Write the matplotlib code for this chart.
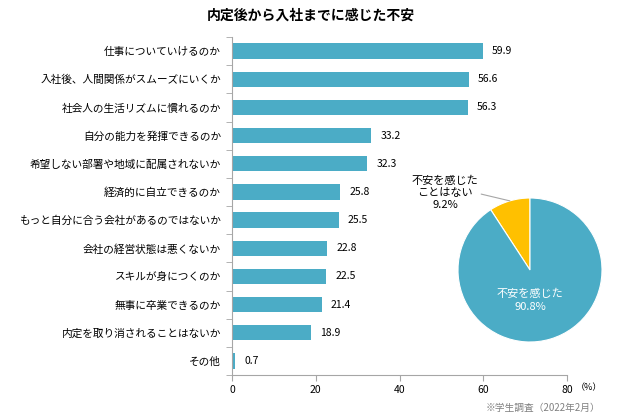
import matplotlib.pyplot as plt
import numpy as np

plt.rcParams['font.family'] = ['Noto Sans CJK JP', 'DejaVu Sans']

# データ
items = ["仕事についていけるのか", "入社後、人間関係がスムーズにいくか", "社会人の生活リズムに慣れるのか",
         "自分の能力を発揮できるのか", "希望しない部署や地域に配属されないか", "経済的に自立できるのか",
         "もっと自分に合う会社があるのではないか", "会社の経営状態は悪くないか", "スキルが身につくのか",
         "無事に卒業できるのか", "内定を取り消されることはないか", "その他"]
values = [59.9, 56.6, 56.3, 33.2, 32.3, 25.8, 25.5, 22.8, 22.5, 21.4, 18.9, 0.7]
pie_labels = ["不安を感じた\nことはない", "不安を感じた"]
pie_values = [9.2, 90.8]

blue = "#4BACC6"
yellow = "#FFC000"
gray = "#A6A6A6"

fig = plt.figure(figsize=(6.22, 4.2), dpi=100)
fig.text(0.5, 0.962, "内定後から入社までに感じた不安", ha="center", va="center",
         fontsize=10, fontweight="bold")

# 棒グラフ
ax = fig.add_axes([232/622, 1-375/420, 335/622, 338/420])
y = np.arange(len(items))
ax.barh(y, values, height=0.55, color=blue)
for yi, v in zip(y, values):
    ax.text(v + 2.2, yi, f"{v:.1f}", va="center", ha="left", fontsize=7.5)
ax.set_ylim(len(items) - 0.5, -0.5)
ax.set_xlim(0, 80)
ax.set_xticks([0, 20, 40, 60, 80])
ax.set_yticks(y)
ax.set_yticklabels(items, fontsize=7.7)
ax.tick_params(axis="y", length=0, pad=8)
ax.set_yticks(np.arange(-0.5, len(items), 1), minor=True)
ax.tick_params(axis="y", which="minor", length=4, color=gray, direction="out")
ax.tick_params(axis="x", length=4, color=gray, labelsize=7.5)
for s in ["top", "right"]:
    ax.spines[s].set_visible(False)
for s in ["left", "bottom"]:
    ax.spines[s].set_color(gray)
fig.text(589/622, 1-388/420, "（%）", fontsize=6.5, va="center", ha="center")
fig.text(600/622, 1-408/420, "※学生調査（2022年2月）", ha="right", va="center",
         fontsize=7, color="#808080")

# 円グラフ
pax = fig.add_axes([458/622, 1-342/420, 144/622, 144/420])
pax.pie(pie_values, colors=[yellow, blue], startangle=90, counterclock=True,
        wedgeprops=dict(edgecolor="white", linewidth=0.8))
pax.set_xlim(-1, 1)
pax.set_ylim(-1, 1)
pax.set_aspect("equal")
pax.text(0, -0.42, f"{pie_labels[1]}\n{pie_values[1]}%", ha="center", va="center",
         color="white", fontsize=8, linespacing=1.4)
pax.annotate(f"{pie_labels[0]}\n{pie_values[0]}%", xy=(-0.28, 0.96), xytext=(-1.18, 1.07),
             ha="center", va="center", fontsize=8, linespacing=1.3,
             arrowprops=dict(arrowstyle="-", color=gray, lw=0.8, shrinkA=0, shrinkB=0,
                             relpos=(0.97, 0.5)),
             annotation_clip=False)

fig.savefig("out.png", dpi=100)
